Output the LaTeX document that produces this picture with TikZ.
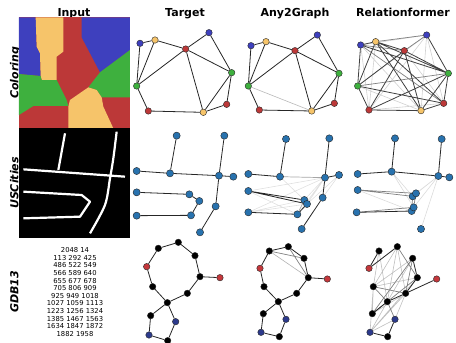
\documentclass[tikz,border=0pt]{standalone}
\usepackage{fontspec}
\newfontfamily\dvs{DejaVu Sans}
\pgfdeclarelayer{bg}
\pgfsetlayers{bg,main}
\definecolor{cblue}{RGB}{62,64,190}
\definecolor{cyel}{RGB}{246,196,106}
\definecolor{cred}{RGB}{188,56,56}
\definecolor{cgreen}{RGB}{62,176,62}
\definecolor{ublue}{RGB}{40,114,174}
\definecolor{mred}{RGB}{196,56,60}
\definecolor{mblue}{RGB}{44,58,140}
\tikzset{
  gn/.style={circle,draw=black!85,line width=0.4pt,minimum size=6.5pt,inner sep=0pt},
  un/.style={gn,fill=ublue,minimum size=7.2pt},
  kn/.style={gn,fill=black},
  ed/.style={line width=0.8pt,black!85},
  md/.style={line width=0.7pt,black!50},
  lt/.style={line width=0.6pt,black!18},
  hdr/.style={font=\dvs\bfseries\fontsize{11}{13}\selectfont,anchor=base},
  rowl/.style={font=\dvs\bfseries\itshape\fontsize{11}{13}\selectfont,rotate=90,anchor=base},
  zs/.style={x=0.33333pt,y=-0.33333pt}
}
\begin{document}
\begin{tikzpicture}[x=1pt,y=-1pt]
\useasboundingbox (0,0) rectangle (456,343);
% headers
\node[hdr] (hIn) at (74,16) {Input};
\node[hdr] (hT) at (185,16) {Target};
\node[hdr] (hA) at (295,16) {Any2Graph};
\node[hdr] (hR) at (403,16) {Relationformer};
\node[rowl] (rC) at (18.3,73) {Coloring};
\node[rowl] (rU) at (18.3,183) {USCities};
\node[rowl] (rG) at (18.3,292) {GDB13};
% coloring input image
\begin{scope}[zs]
\fill[cred] (57,52) rectangle (390,385);
\fill[cblue] (57,52)--(107,52)--(110,140)--(120,160)--(122,228)--(57,222)--cycle;
\fill[cyel] (107,52)--(190,52)--(190,155)--(170,170)--(170,240)--(125,240)--(122,228)--(120,160)--(110,140)--cycle;
\fill[cblue] (245,52)--(390,52)--(390,150)--(300,217)--(245,112)--cycle;
\fill[cgreen] (390,150)--(390,292)--(305,292)--(290,270)--(265,262)--(300,217)--cycle;
\fill[cyel] (265,262)--(290,270)--(305,292)--(310,320)--(340,385)--(205,385)--(205,320)--(210,300)--cycle;
\fill[cgreen] (57,222)--(122,228)--(125,240)--(170,240)--(200,300)--(205,318)--(100,318)--(57,345)--cycle;
\end{scope}
% USCities input image
\begin{scope}[shift={(0,125)},zs]
\fill[black] (57,9) rectangle (390,339);
\draw[white,line width=2.2pt] (195,25)--(175,135);
\draw[white,line width=2.2pt] (70,133)--(375,155);
\draw[white,line width=2.2pt] plot[smooth] coordinates {(350,20) (340,100) (330,160) (315,240) (270,325)};
\draw[white,line width=2.2pt,line join=round] (70,200)--(245,210)--(270,230)--(240,275)--(70,280);
\end{scope}
% GDB13 input text
\node[font=\dvs\fontsize{6.8}{7.6}\selectfont,align=center] (gtxt) at (75,292) {2048 14\\113 292 425\\486 522 549\\566 589 640\\655 677 678\\705 806 909\\925 949 1018\\1027 1059 1113\\1223 1256 1324\\1385 1467 1563\\1634 1847 1872\\1882 1958};
% ---------- Coloring Target
\begin{scope}[shift={(130,0)},zs]
\node[gn,fill=cblue] (tB1) at (30,130) {};
\node[gn,fill=cyel] (tY1) at (75,120) {};
\node[gn,fill=cred] (tRC) at (167,147) {};
\node[gn,fill=cblue] (tB2) at (237,98) {};
\node[gn,fill=cgreen] (tGR) at (305,218) {};
\node[gn,fill=cred] (tRR) at (290,313) {};
\node[gn,fill=cyel] (tYB) at (220,337) {};
\node[gn,fill=cred] (tRBL) at (55,333) {};
\node[gn,fill=cgreen] (tGL) at (20,258) {};
\begin{pgfonlayer}{bg}
\draw[ed] (tB1)--(tY1) (tB1)--(tGL) (tY1)--(tGL) (tY1)--(tRC) (tRC)--(tGL) (tRC)--(tB2) (tRC)--(tGR) (tRC)--(tYB) (tB2)--(tGR) (tGR)--(tRR) (tGR)--(tYB) (tRR)--(tYB) (tYB)--(tRBL) (tRBL)--(tGL);
\end{pgfonlayer}
\end{scope}
% ---------- Coloring Any2Graph
\begin{scope}[shift={(240,0)},zs]
\node[gn,fill=cblue] (aB1) at (33,137) {};
\node[gn,fill=cyel] (aY1) at (78,125) {};
\node[gn,fill=cred] (aRC) at (165,152) {};
\node[gn,fill=cblue] (aB2) at (232,105) {};
\node[gn,fill=cgreen] (aGR) at (297,220) {};
\node[gn,fill=cred] (aRR) at (283,310) {};
\node[gn,fill=cyel] (aYB) at (215,333) {};
\node[gn,fill=cred] (aRBL) at (58,330) {};
\node[gn,fill=cgreen] (aGL) at (25,258) {};
\begin{pgfonlayer}{bg}
\draw[lt,black!28] (aGL)--(aYB);
\draw[ed] (aB1)--(aY1) (aB1)--(aGL) (aY1)--(aGL) (aY1)--(aRC) (aRC)--(aGL) (aRC)--(aB2) (aRC)--(aGR) (aRC)--(aYB) (aB2)--(aGR) (aGR)--(aRR) (aGR)--(aYB) (aRR)--(aYB) (aYB)--(aRBL) (aRBL)--(aGL);
\end{pgfonlayer}
\end{scope}
% ---------- Coloring Relationformer
\begin{scope}[shift={(345,0)},zs]
\node[gn,fill=cblue] (rB1) at (47,135) {};
\node[gn,fill=cyel] (rY1) at (92,125) {};
\node[gn,fill=cred] (rRC) at (178,152) {};
\node[gn,fill=cblue] (rB2) at (245,105) {};
\node[gn,fill=cgreen] (rGR) at (310,220) {};
\node[gn,fill=cred] (rRR) at (296,310) {};
\node[gn,fill=cyel] (rYB) at (228,332) {};
\node[gn,fill=cred] (rRBL) at (72,330) {};
\node[gn,fill=cgreen] (rGL) at (38,258) {};
\begin{pgfonlayer}{bg}
\draw[lt] (rB1)--(rB2) (rB1)--(rYB) (rB1)--(rRBL) (rY1)--(rRBL) (rRC)--(rRR) (rB2)--(rRR) (rB2)--(rYB) (rB2)--(rRBL) (rB2)--(rGL) (rGL)--(rYB) (rRR)--(rRBL);
\draw[md] (rB1)--(rRC) (rB1)--(rRR) (rY1)--(rB2) (rGL)--(rGR) (rB2)--(rRC);
\draw[ed,black!75] (rB1)--(rY1) (rB1)--(rGL) (rY1)--(rGL) (rY1)--(rRC) (rRC)--(rGR) (rRC)--(rYB) (rB2)--(rGR) (rGR)--(rRR) (rGR)--(rYB) (rRR)--(rYB) (rYB)--(rRBL) (rRBL)--(rGL) (rRC)--(rGL) (rY1)--(rRR) (rY1)--(rYB) (rGL)--(rRR) (rRBL)--(rGR) (rRC)--(rRBL) (rB1)--(rGR) (rY1)--(rGR);
\end{pgfonlayer}
\end{scope}
% ---------- USCities Target
\begin{scope}[shift={(130,125)},zs]
\node[un] (tua) at (140,32) {};
\node[un] (tub) at (283,32) {};
\node[un] (tuc) at (20,138) {};
\node[un] (tud) at (120,145) {};
\node[un] (tue) at (267,152) {};
\node[un] (tuf) at (310,155) {};
\node[un] (tug) at (20,202) {};
\node[un] (tuh) at (178,208) {};
\node[un] (tui) at (208,228) {};
\node[un] (tuj) at (20,272) {};
\node[un] (tuk) at (183,271) {};
\node[un] (tul) at (257,244) {};
\node[un] (tum) at (210,322) {};
\begin{pgfonlayer}{bg}
\draw[ed] (tua)--(tud) (tuc)--(tud) (tud)--(tue) (tue)--(tuf) (tub)--(tue) (tue)--(tul) (tul)--(tum) (tug)--(tuh) (tuh)--(tui) (tui)--(tuk) (tuk)--(tuj);
\end{pgfonlayer}
\end{scope}
% ---------- USCities Any2Graph
\begin{scope}[shift={(240,125)},zs]
\node[un] (aua) at (138,42) {};
\node[un] (aub) at (268,40) {};
\node[un] (auc) at (25,147) {};
\node[un] (aud) at (120,155) {};
\node[un] (aue) at (255,158) {};
\node[un] (auf) at (297,150) {};
\node[un] (aug) at (25,198) {};
\node[un] (auh) at (193,225) {};
\node[un] (auh2) at (201,237) {};
\node[un] (auj) at (25,262) {};
\node[un] (auk) at (172,268) {};
\node[un] (aul) at (248,218) {};
\node[un] (aum) at (185,312) {};
\begin{pgfonlayer}{bg}
\draw[lt,black!12] (aue)--(aug) (aue)--(auj) (aue)--(auh) (aue)--(auh2) (aue)--(auk) (auf)--(auh2) (auf)--(aul) (auj)--(auh) (auj)--(auh2) (aug)--(auk) (aud)--(auh);
\draw[md,black!35] (aud)--(aue) (auh)--(auk);
\draw[ed] (aua)--(aud) (auc)--(aud) (aub)--(aue) (aue)--(auf) (aue)--(aul) (aul)--(aum) (aug)--(auh) (aug)--(auh2) (auh2)--(auk) (auk)--(auj);
\end{pgfonlayer}
\end{scope}
% ---------- USCities Relationformer
\begin{scope}[shift={(345,125)},zs]
\node[un] (rua) at (150,40) {};
\node[un] (rub) at (290,42) {};
\node[un] (ruc) at (38,147) {};
\node[un] (rud) at (140,140) {};
\node[un] (rue) at (280,153) {};
\node[un] (ruf) at (313,157) {};
\node[un] (rug) at (38,195) {};
\node[un] (ruh) at (203,214) {};
\node[un] (ruh2) at (213,205) {};
\node[un] (rui) at (200,258) {};
\node[un] (rui2) at (206,247) {};
\node[un] (ruj) at (35,262) {};
\node[un] (rum) at (228,312) {};
\begin{pgfonlayer}{bg}
\draw[lt,black!14] (rud)--(ruh) (rue)--(ruh) (rue)--(ruh2) (rue)--(rum) (rug)--(rui) (rud)--(rui2) (rue)--(rui2);
\draw[md] (rug)--(ruh) (rug)--(ruh2) (ruh)--(rui) (ruh2)--(rui2) (ruj)--(rui2);
\draw[ed] (rua)--(rud) (ruc)--(rud) (rud)--(rue) (rub)--(rue) (rue)--(ruf) (ruj)--(rui);
\end{pgfonlayer}
\end{scope}
% ---------- GDB13 Target
\begin{scope}[shift={(130,235)},zs]
\node[kn] (tn1) at (145,22) {};
\node[kn] (tn2) at (85,40) {};
\node[kn] (tn3) at (195,62) {};
\node[gn,fill=mred] (tn4) at (50,95) {};
\node[kn] (tn5) at (210,125) {};
\node[gn,fill=mred] (tn6) at (270,128) {};
\node[kn] (tn7) at (68,155) {};
\node[kn] (tn8) at (172,175) {};
\node[kn] (tn9) at (112,203) {};
\node[kn] (tn10) at (62,242) {};
\node[gn,fill=mblue] (tn11) at (137,260) {};
\node[gn,fill=mblue] (tn12) at (57,300) {};
\node[kn] (tn13) at (113,317) {};
\begin{pgfonlayer}{bg}
\draw[ed] (tn2)--(tn1) (tn1)--(tn3) (tn3)--(tn5) (tn5)--(tn6) (tn5)--(tn8) (tn8)--(tn9) (tn9)--(tn7) (tn7)--(tn4) (tn4)--(tn2) (tn9)--(tn10) (tn9)--(tn11) (tn10)--(tn12) (tn12)--(tn13) (tn13)--(tn11);
\end{pgfonlayer}
\end{scope}
% ---------- GDB13 Any2Graph
\begin{scope}[shift={(240,235)},zs]
\node[kn] (an1) at (145,35) {};
\node[kn] (an2) at (88,48) {};
\node[kn] (an3) at (192,70) {};
\node[gn,fill=mred] (an4) at (60,100) {};
\node[kn] (an5) at (205,128) {};
\node[gn,fill=mred] (an6) at (262,132) {};
\node[kn] (an7) at (72,155) {};
\node[kn] (an8) at (170,175) {};
\node[kn] (an9) at (115,200) {};
\node[kn] (an10) at (70,236) {};
\node[gn,fill=mblue] (an11) at (138,253) {};
\node[gn,fill=mblue] (an12) at (63,292) {};
\node[kn] (an13) at (118,305) {};
\begin{pgfonlayer}{bg}
\draw[md] (an2)--(an3) (an1)--(an5);
\draw[lt,black!30] (an2)--(an5);
\draw[ed] (an2)--(an1) (an1)--(an3) (an3)--(an5) (an5)--(an6) (an5)--(an8) (an8)--(an9) (an9)--(an7) (an7)--(an4) (an4)--(an2) (an9)--(an10) (an9)--(an11) (an10)--(an12) (an12)--(an13) (an13)--(an11);
\end{pgfonlayer}
\end{scope}
% ---------- GDB13 Relationformer
\begin{scope}[shift={(345,235)},zs]
\node[kn] (rn1) at (157,35) {};
\node[kn] (rn2) at (102,48) {};
\node[kn] (rn3) at (203,70) {};
\node[gn,fill=mred] (rn4) at (72,100) {};
\node[kn] (rn5) at (217,128) {};
\node[gn,fill=mred] (rn6) at (275,132) {};
\node[kn] (rn7) at (85,155) {};
\node[kn] (rn8) at (182,175) {};
\node[kn] (rn9) at (127,200) {};
\node[kn] (rn10) at (82,236) {};
\node[gn,fill=mblue] (rn11) at (150,253) {};
\node[gn,fill=mblue] (rn12) at (75,292) {};
\node[kn] (rn13) at (128,305) {};
\begin{pgfonlayer}{bg}
\draw[lt,black!25] (rn1)--(rn7) (rn2)--(rn7) (rn1)--(rn9) (rn3)--(rn9) (rn3)--(rn7) (rn5)--(rn7) (rn7)--(rn10) (rn9)--(rn12) (rn8)--(rn12) (rn5)--(rn12) (rn8)--(rn10) (rn1)--(rn8) (rn8)--(rn11) (rn12)--(rn11) (rn2)--(rn9) (rn7)--(rn12);
\draw[md] (rn3)--(rn8) (rn5)--(rn9) (rn7)--(rn8) (rn7)--(rn9) (rn9)--(rn11) (rn5)--(rn10) (rn3)--(rn10) (rn1)--(rn5);
\draw[ed] (rn4)--(rn2) (rn4)--(rn1) (rn3)--(rn5) (rn5)--(rn8) (rn8)--(rn6) (rn8)--(rn9) (rn9)--(rn10) (rn12)--(rn13) (rn13)--(rn11);
\end{pgfonlayer}
\end{scope}
\end{tikzpicture}
\end{document}
